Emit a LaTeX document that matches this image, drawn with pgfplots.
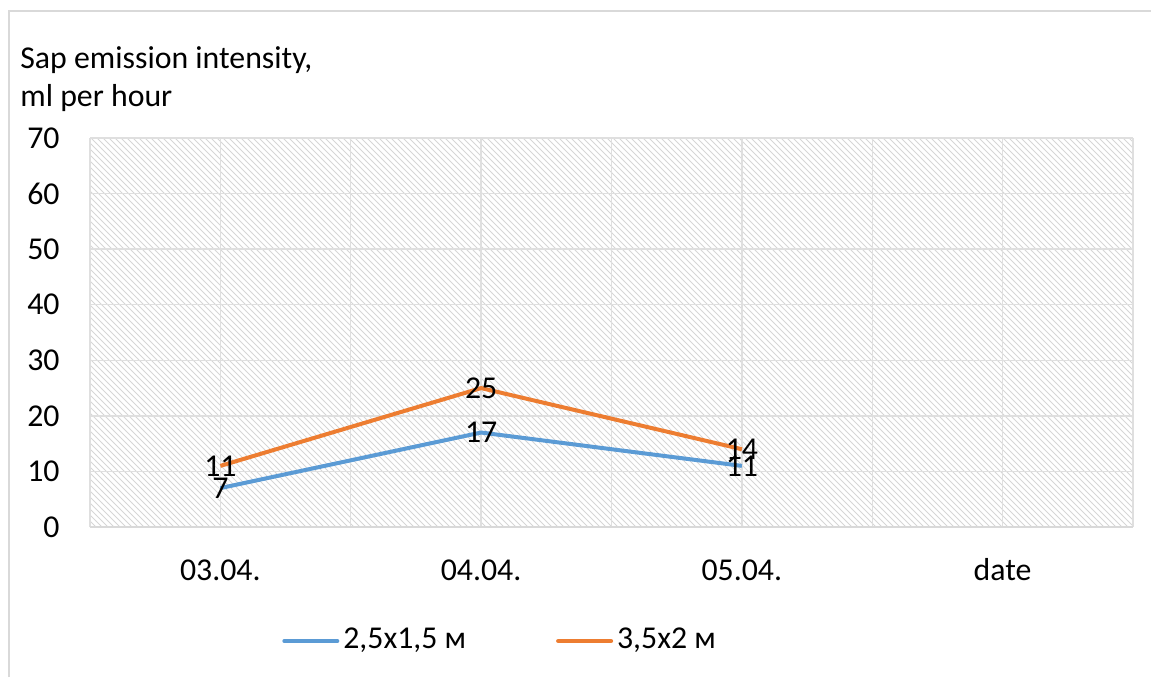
\documentclass[border=0pt]{standalone}
\usepackage{fontspec}
\setmainfont{Carlito}
\usepackage{pgfplots}
\pgfplotsset{compat=1.18}
\usetikzlibrary{patterns}
\definecolor{xlblue}{HTML}{5B9BD5}
\definecolor{xlorange}{HTML}{ED7D31}
\definecolor{gridgray}{HTML}{D9D9D9}
\newcommand{\chartfont}{\fontsize{15.9}{19}\selectfont}
\begin{document}
\chartfont
\begin{tikzpicture}
\useasboundingbox (0,0) rectangle (575.5pt,338.5pt);
% chart frame: only left and top edges show
\draw[gridgray, line width=1pt] (4.5pt,0) -- (4.5pt,333pt) -- (575.5pt,333pt);
\begin{axis}[
  at={(45pt,75pt)}, anchor=south west,
  scale only axis, width=521.5pt, height=194.5pt,
  xmin=-0.5, xmax=3.5, ymin=0, ymax=70,
  xtick={0,1,2,3}, xticklabels={03.04.,04.04.,05.04.,date},
  minor xtick={-0.5,0.5,1.5,2.5,3.5},
  ytick={0,10,...,70},
  xmajorgrids, xminorgrids, ymajorgrids,
  major grid style={gridgray!85, line width=0.7pt},
  minor grid style={gridgray!85, line width=0.7pt},
  major tick length=0pt, minor tick length=0pt,
  axis x line*=bottom, axis y line*=left,
  x axis line style={-, gridgray, line width=1pt},
  y axis line style={draw=none},
  axis background/.style={pattern=north west lines, pattern color=gray!32},
  /pgf/number format/assume math mode=true,
  tick label style={font=\chartfont, text=black},
  yticklabel style={anchor=east, xshift=-15pt, inner sep=0pt},
  xticklabel style={anchor=base, yshift=-26.5pt, inner sep=0pt},
  nodes near coords,
  every node near coord/.append style={anchor=center, font=\chartfont, text=black, inner sep=0pt},
  clip=false,
  legend columns=2,
  legend style={at={(0.184,-0.293)}, anchor=west, draw=none, fill=none, font=\chartfont,
    inner sep=0pt,
    /tikz/every odd column/.append style={column sep=0pt},
    /tikz/every even column/.append style={column sep=43pt}},
  legend image code/.code={\draw[#1, line cap=round] (0pt,0pt) -- (26.5pt,0pt);},
]
\addplot[xlblue, line width=2pt] coordinates {(0,7) (1,17) (2,11)};
\addlegendentry{2,5x1,5 м}
\addplot[xlorange, line width=2pt] coordinates {(0,11) (1,25) (2,14)};
\addlegendentry{3,5x2 м}
\end{axis}
\node[anchor=base west, inner sep=0pt] at (10pt,304.5pt) {Sap emission intensity,};
\node[anchor=base west, inner sep=0pt] at (10pt,285.5pt) {ml per hour};
\end{tikzpicture}
\end{document}
